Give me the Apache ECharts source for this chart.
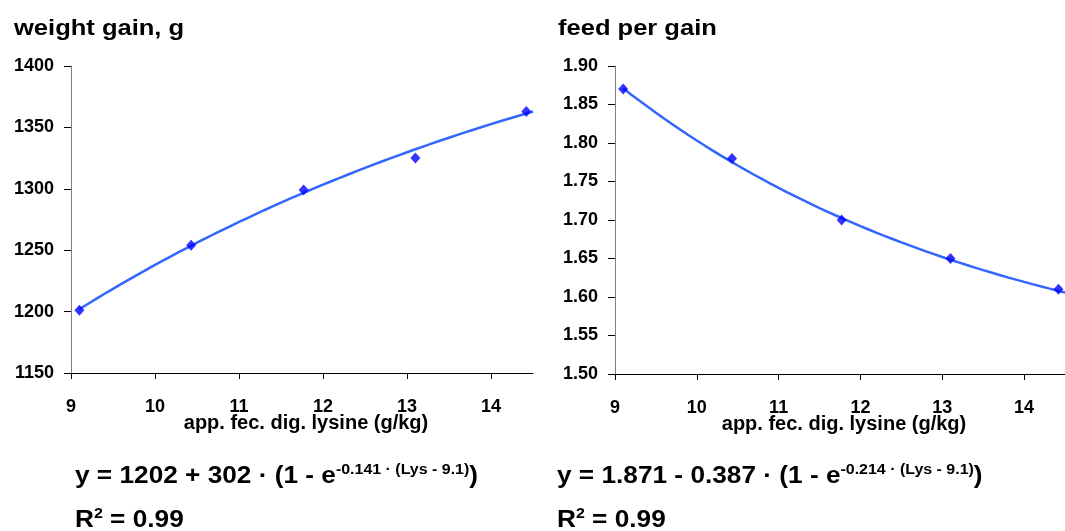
<!DOCTYPE html>
<html>
<head>
<meta charset="utf-8">
<script src="https://cdn.jsdelivr.net/npm/echarts@6/dist/echarts.min.js"></script>
<style>
  html, body { margin: 0; padding: 0; background: #fff; }
  #chart { width: 1065px; height: 531px; }
</style>
</head>
<body>
<div id="chart"></div>
<script>
// Measured points: apparent faecal digestible lysine (g/kg)
const lysine = [9.1, 10.43, 11.77, 13.1, 14.42];
const weightGain = [1201, 1254, 1299, 1325, 1363];
const feedPerGain = [1.87, 1.78, 1.70, 1.65, 1.61];

// Exponential fit parameters: y = a + b * (1 - e^(c * (Lys - x0)))
const gainFit = [1202, 302, -0.141, 9.1];
const fcrFit = [1.871, -0.387, -0.214, 9.1];

const xTicks = [9, 10, 11, 12, 13, 14];
const gainTicks = [1150, 1400, 50];
const fcrTicks = [1.5, 1.9, 0.05];

const FONT = '"Liberation Sans", Arial, sans-serif';

function fitLine(p) {
  const pts = [];
  for (let i = 0; i <= 54; i++) {
    const x = p[3] + i * 0.1;
    pts.push([x, p[0] + p[1] * (1 - Math.exp(p[2] * (x - p[3])))]);
  }
  return pts;
}

function xAxis(gridIndex) {
  return {
    type: 'value', gridIndex, min: 9, max: 14.5, interval: 1,
    name: 'app. fec. dig. lysine (g/kg)', nameLocation: 'middle', nameGap: 40,
    nameMoveOverlap: false,
    nameTextStyle: { fontFamily: FONT, fontWeight: 'bold', fontSize: 20, color: '#000', padding: [0, 0, 0, 8] },
    axisLine: { lineStyle: { color: '#000', width: 1 } },
    axisTick: { inside: false, length: 6, customValues: xTicks, lineStyle: { color: '#000' } },
    axisLabel: { customValues: xTicks, margin: 25, fontFamily: FONT, fontWeight: 'bold', fontSize: 18, color: '#000' },
    splitLine: { show: false }
  };
}

function yAxis(gridIndex, t, dec) {
  return {
    type: 'value', gridIndex, min: t[0], max: t[1], interval: t[2],
    axisLine: { show: true, lineStyle: { color: '#808080', width: 1 } },
    axisTick: { show: true, inside: false, length: 7, lineStyle: { color: '#000' } },
    axisLabel: { margin: 17, fontFamily: FONT, fontWeight: 'bold', fontSize: 18, color: '#000',
      formatter: v => v.toFixed(dec) },
    splitLine: { show: false }
  };
}

function pointSeries(idx, data) {
  return {
    type: 'scatter', xAxisIndex: idx, yAxisIndex: idx,
    data: lysine.map((x, i) => [x, data[i]]),
    symbol: 'diamond', symbolSize: [10, 11],
    itemStyle: { color: '#0000ff' }, z: 3
  };
}

function curveSeries(idx, p) {
  return {
    type: 'line', xAxisIndex: idx, yAxisIndex: idx,
    data: fitLine(p), showSymbol: false, smooth: false,
    lineStyle: { color: '#3366ff', width: 2.5 }, z: 2
  };
}

const eqRich = {
  m: { fontFamily: FONT, fontWeight: 'bold', fontSize: 23, color: '#000', lineHeight: 28 },
  s: { fontFamily: FONT, fontWeight: 'bold', fontSize: 14, color: '#000', verticalAlign: 'top', lineHeight: 28, padding: [0, 0, 10, 0] }
};

// Bold text drawn slightly wider than the stock font
function txt(x, y, text, size, sx, rich) {
  const style = rich
    ? { text, rich: eqRich, fill: '#000', align: 'left', verticalAlign: 'middle' }
    : { text, fontFamily: FONT, fontWeight: 'bold', fontSize: size, fill: '#000', align: 'left', verticalAlign: 'middle' };
  return { type: 'text', x, y, scaleX: sx, style };
}

const chart = echarts.init(document.getElementById('chart'), null, { renderer: 'canvas' });
chart.setOption({
  animation: false,
  backgroundColor: '#fff',
  grid: [
    { left: 71, top: 66, width: 462, height: 307 },
    { left: 615, top: 66, width: 451, height: 308 }
  ],
  xAxis: [xAxis(0), xAxis(1)],
  yAxis: [yAxis(0, gainTicks, 0), yAxis(1, fcrTicks, 2)],
  series: [
    curveSeries(0, gainFit), pointSeries(0, weightGain),
    curveSeries(1, fcrFit), pointSeries(1, feedPerGain)
  ],
  graphic: [
    txt(14, 29, 'weight gain, g', 22, 1.16),
    txt(558, 29, 'feed per gain', 22, 1.16),
    txt(75, 477, '{m|y = ' + gainFit[0] + ' + ' + gainFit[1] + ' · (1 - e}{s|' + gainFit[2] + ' · (Lys - ' + gainFit[3] + ')}{m|)}', 0, 1.14, true),
    txt(557, 477, '{m|y = ' + fcrFit[0] + ' - ' + (-fcrFit[1]) + ' · (1 - e}{s|' + fcrFit[2] + ' · (Lys - ' + fcrFit[3] + ')}{m|)}', 0, 1.14, true),
    txt(75, 521, '{m|R}{s|2}{m| = 0.99}', 0, 1.14, true),
    txt(557, 521, '{m|R}{s|2}{m| = 0.99}', 0, 1.14, true)
  ]
});
</script>
</body>
</html>
